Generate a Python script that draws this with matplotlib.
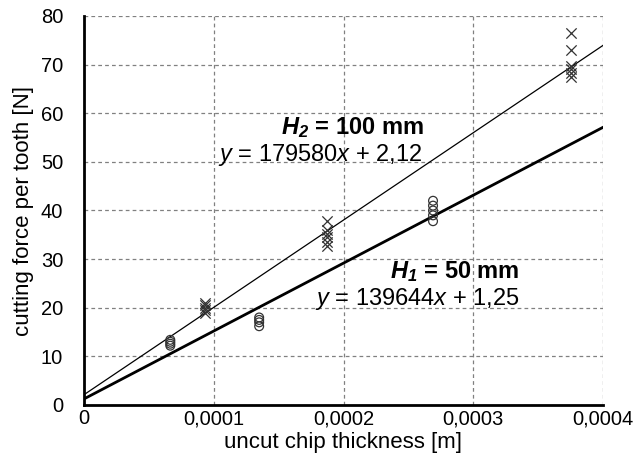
import matplotlib
matplotlib.use("Agg")
import matplotlib.pyplot as plt
import numpy as np

plt.rcParams['font.family'] = ['Liberation Sans', 'DejaVu Sans']
plt.rcParams['mathtext.fontset'] = 'custom'
plt.rcParams['mathtext.rm'] = 'Liberation Sans'
plt.rcParams['mathtext.it'] = 'Liberation Sans:italic'
plt.rcParams['mathtext.bf'] = 'Liberation Sans:italic:bold'

# H1 = 50 mm (circles)
h1_x = [0.0000665]*4 + [0.000135]*4 + [0.000269]*5
h1_y = [12.2, 12.6, 13.0, 13.4,
        16.2, 17.0, 17.5, 18.0,
        37.8, 39.0, 40.0, 41.0, 42.0]
# H2 = 100 mm (crosses)
h2_x = [0.0000935]*5 + [0.000187]*6 + [0.000375]*6
h2_y = [19.0, 19.5, 20.0, 20.5, 21.0,
        32.8, 33.5, 34.5, 35.2, 36.0, 37.8,
        67.5, 68.2, 69.0, 69.7, 73.0, 76.6]

h1_slope, h1_icpt = 139644, 1.25
h2_slope, h2_icpt = 179580, 2.12

xticks = [0, 0.0001, 0.0002, 0.0003, 0.0004]
xtick_labels = ['0', '0,0001', '0,0002', '0,0003', '0,0004']
yticks = [0, 10, 20, 30, 40, 50, 60, 70, 80]

fig = plt.figure(figsize=(6.33, 4.68), dpi=100)
ax = fig.add_axes([84/633, (468-405)/468, 519/633, 389/468])

xl = np.array([0, 0.0004])
ax.plot(xl, h2_slope*xl + h2_icpt, color='black', lw=0.9, zorder=3)
ax.plot(xl, h1_slope*xl + h1_icpt, color='black', lw=2.0, zorder=3)

ax.scatter(h1_x, h1_y, marker='o', s=40, facecolors='none', edgecolors='#333333', linewidths=0.9, zorder=4)
ax.scatter(h2_x, h2_y, marker='x', s=55, color='#333333', linewidths=0.9, zorder=4)

ax.set_xlim(0, 0.0004)
ax.set_ylim(0, 80)
ax.set_xticks(xticks)
ax.set_xticklabels(xtick_labels)
ax.set_yticks(yticks)
ax.tick_params(length=0, labelsize=14.5)
ax.tick_params(axis='x', pad=3)
ax.tick_params(axis='y', pad=15)
ax.grid(True, linestyle=(0, (3, 2.5)), color='#808080', linewidth=0.9)
ax.set_axisbelow(True)
for s in ['top', 'right']:
    ax.spines[s].set_visible(False)
for s in ['left', 'bottom']:
    ax.spines[s].set_linewidth(2.0)
    ax.spines[s].set_zorder(5)

ax.set_xlabel('uncut chip thickness [m]', fontsize=16, labelpad=3)
ax.set_ylabel('cutting force per tooth [N]', fontsize=16, labelpad=5)

ax.text(0.000262, 57.0, r'$\mathbf{H_2}$ = 100 mm', fontsize=17, fontweight='bold',
        ha='right', va='center', zorder=6)
ax.text(0.000103, 51.4, r'$y$ = 179580$x$ + 2,12', fontsize=17, ha='left', va='center', zorder=6)
ax.text(0.000336, 27.4, r'$\mathbf{H_1}$ = 50 mm', fontsize=17, fontweight='bold',
        ha='right', va='center', zorder=6)
ax.text(0.000336, 21.8, r'$y$ = 139644$x$ + 1,25', fontsize=17, ha='right', va='center', zorder=6)

fig.savefig('out.png', dpi=100)
